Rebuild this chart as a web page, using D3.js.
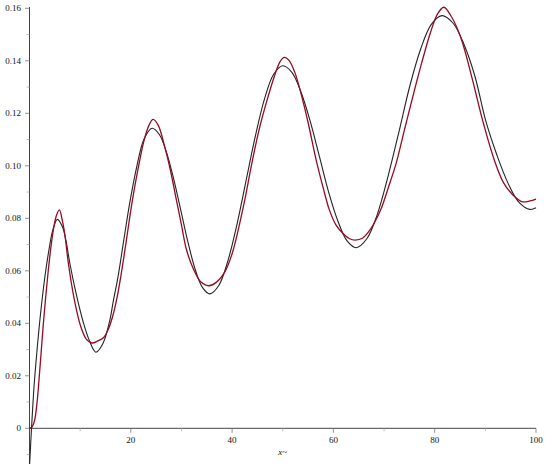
<!DOCTYPE html>
<html>
<head>
<meta charset="utf-8">
<script src="https://cdn.jsdelivr.net/npm/d3@7"></script>
<style>
  html, body { margin: 0; padding: 0; background: #fff; }
</style>
</head>
<body>
<div id="graph"></div>
<script>
// values
const blackX = [0, 0.4, 0.9, 1.5, 2.2, 3.06, 3.8, 4.6, 5.5, 6.5, 7.2, 8.0, 9.3, 10.6, 11.8, 13.1,
  14.5, 15.9, 16.5, 17.5, 18.6, 19.8, 21.2, 22.6, 24.2, 25.6, 27.0, 28.4, 29.9, 31.3, 32.8, 34.2,
  35.6, 37.4, 39.2, 41.0, 42.8, 44.6, 46.4, 48.2, 50.0, 51.8, 53.6, 55.4, 57.25, 59.1, 60.9, 62.7,
  64.5, 66.6, 68.7, 70.8, 72.95, 75.1, 77.2, 79.3, 81.4, 83.6, 85.75, 87.9, 90.1, 92.3, 94.45,
  96.6, 98.8, 100];
const blackY = [-0.0145, 0, 0.016, 0.03, 0.044, 0.058, 0.0675, 0.0755, 0.0796, 0.0768, 0.0715, 0.0625,
  0.0505, 0.0405, 0.0335, 0.029, 0.0323, 0.0415, 0.048, 0.058, 0.0715, 0.086, 0.0999, 0.1101, 0.1143,
  0.112, 0.1054, 0.0955, 0.0828, 0.0708, 0.060, 0.0535, 0.0512, 0.0545, 0.064, 0.078, 0.0947, 0.1114,
  0.1255, 0.1349, 0.1381, 0.1356, 0.1281, 0.1171, 0.1035, 0.0897, 0.0789, 0.0714, 0.0688, 0.0722,
  0.0817, 0.0961, 0.113, 0.1305, 0.1443, 0.1538, 0.1572, 0.1544, 0.1464, 0.1344, 0.117, 0.104,
  0.0935, 0.0862, 0.0834, 0.0840];

const redX = [0, 0.5, 1.0, 1.5, 1.94, 2.3, 2.7, 3.2, 3.7, 4.2, 4.7, 5.3, 5.9, 6.5, 7.0, 7.7, 8.8,
  10.0, 11.2, 12.3, 13.5, 14.6, 15.5, 16.4, 17.2, 18.0, 19.0, 20.2, 21.4, 22.6, 23.6, 24.4, 25.4,
  26.6, 27.8, 29.0, 30.0, 31.0, 32.4, 33.8, 35.4, 36.8, 38.6, 40.0, 41.2, 42.5, 43.8, 45.3, 46.9,
  48.5, 49.5, 50.3, 51.3, 52.4, 53.4, 55.0, 56.6, 58.0, 59.2, 60.5, 62.0, 63.2, 64.3, 65.8, 67.0,
  68.2, 69.4, 70.9, 72.4, 74.0, 75.7, 77.4, 79.2, 80.6, 81.8, 83.4, 85.2, 87.3, 89.5, 91.8, 93.6,
  95.4, 97.3, 98.8, 100];
const redY = [0, 0.0005, 0.003, 0.010, 0.020, 0.029, 0.039, 0.050, 0.060, 0.0685, 0.0755, 0.081,
  0.0832, 0.079, 0.0735, 0.0625, 0.0495, 0.0395, 0.034, 0.0325, 0.0333, 0.0345, 0.0375, 0.0425,
  0.049, 0.0575, 0.070, 0.0855, 0.0985, 0.1095, 0.1155, 0.1177, 0.1155, 0.108, 0.0985, 0.087,
  0.0775, 0.068, 0.0605, 0.0558, 0.0543, 0.0555, 0.0597, 0.0665, 0.0755, 0.087, 0.1, 0.1135,
  0.125, 0.135, 0.1398, 0.1413, 0.1400, 0.1355, 0.129, 0.1165, 0.1022, 0.0915, 0.0832, 0.0775,
  0.0740, 0.0722, 0.0717, 0.0725, 0.075, 0.0787, 0.0835, 0.092, 0.101, 0.1135, 0.1265, 0.139,
  0.151, 0.158, 0.1604, 0.1565, 0.1486, 0.134, 0.117, 0.102, 0.0935, 0.089, 0.0863, 0.0866, 0.0873];

const xTicks = [20, 40, 60, 80, 100];
const xMinorTicks = [10, 30, 50, 70, 90];
const yTicks = [0, 0.02, 0.04, 0.06, 0.08, 0.10, 0.12, 0.14, 0.16];
const yMinorTicks = [-0.01, 0.01, 0.03, 0.05, 0.07, 0.09, 0.11, 0.13, 0.15];
const yTickLabels = ['0', '0.02', '0.04', '0.06', '0.08', '0.10', '0.12', '0.14', '0.16'];
const xLabel = 'x~';

const width = 546;
const height = 464;
const fontFamily = "'Liberation Serif', 'Times New Roman', serif";
const axisColor = '#444';
const lineColors = { black: '#222', red: '#960a22' };

const xScale = d3.scaleLinear().domain([0, 100]).range([29.5, 536]);
const yScale = d3.scaleLinear().domain([0, 0.16]).range([428.3, 8.3]);

const svg = d3.select('#graph')
  .append('svg')
  .attr('width', width)
  .attr('height', height)
  .attr('font-family', fontFamily)
  .attr('font-size', 9);

// y axis
const yAxis = svg.append('g').attr('class', 'y-axis');
yAxis.append('line')
  .attr('x1', xScale(0)).attr('x2', xScale(0))
  .attr('y1', 7).attr('y2', height)
  .attr('stroke', axisColor)
  .attr('stroke-width', 1);
yAxis.selectAll('.minor')
  .data(yMinorTicks)
  .enter()
  .append('line')
  .attr('class', 'minor')
  .attr('x1', xScale(0) - 3).attr('x2', xScale(0))
  .attr('y1', (d) => yScale(d)).attr('y2', (d) => yScale(d))
  .attr('stroke', '#aaa')
  .attr('stroke-width', 0.8);
yAxis.selectAll('.major')
  .data(yTicks)
  .enter()
  .append('line')
  .attr('class', 'major')
  .attr('x1', xScale(0) - 4.5).attr('x2', xScale(0))
  .attr('y1', (d) => yScale(d)).attr('y2', (d) => yScale(d))
  .attr('stroke', '#777')
  .attr('stroke-width', 0.8);
yAxis.selectAll('text')
  .data(yTicks)
  .enter()
  .append('text')
  .attr('x', 21)
  .attr('y', (d) => yScale(d))
  .attr('dy', '0.33em')
  .attr('text-anchor', 'end')
  .attr('fill', '#111')
  .text((d, i) => yTickLabels[i]);

// x axis
const xAxis = svg.append('g').attr('class', 'x-axis');
xAxis.append('line')
  .attr('x1', xScale(0)).attr('x2', xScale(100))
  .attr('y1', yScale(0)).attr('y2', yScale(0))
  .attr('stroke', axisColor)
  .attr('stroke-width', 1);
xAxis.selectAll('.minor')
  .data(xMinorTicks)
  .enter()
  .append('line')
  .attr('class', 'minor')
  .attr('x1', (d) => xScale(d)).attr('x2', (d) => xScale(d))
  .attr('y1', yScale(0)).attr('y2', yScale(0) + 3)
  .attr('stroke', '#aaa')
  .attr('stroke-width', 0.8);
xAxis.selectAll('.major')
  .data(xTicks)
  .enter()
  .append('line')
  .attr('class', 'major')
  .attr('x1', (d) => xScale(d)).attr('x2', (d) => xScale(d))
  .attr('y1', yScale(0)).attr('y2', yScale(0) + 4.5)
  .attr('stroke', '#777')
  .attr('stroke-width', 0.8);
xAxis.selectAll('text')
  .data(xTicks)
  .enter()
  .append('text')
  .attr('x', (d) => xScale(d))
  .attr('y', yScale(0) + 15)
  .attr('text-anchor', 'middle')
  .attr('fill', '#111')
  .text((d) => d);

svg.append('text')
  .attr('x', xScale(50))
  .attr('y', yScale(0) + 26.5)
  .attr('text-anchor', 'middle')
  .attr('font-style', 'italic')
  .attr('fill', '#111')
  .text(xLabel);

// curves
const drawLine = (xs, ys, color, strokeWidth) => {
  const points = xs.map((x, i) => [x, ys[i]]);
  const line = d3.line()
    .curve(d3.curveCatmullRom.alpha(0.5))
    .x((d) => xScale(d[0]))
    .y((d) => yScale(d[1]));

  svg.append('path')
    .datum(points)
    .attr('fill', 'none')
    .attr('stroke', color)
    .attr('stroke-width', strokeWidth)
    .attr('d', line);
};

drawLine(blackX, blackY, lineColors.black, 1.1);
drawLine(redX, redY, lineColors.red, 1.3);
</script>
</body>
</html>
